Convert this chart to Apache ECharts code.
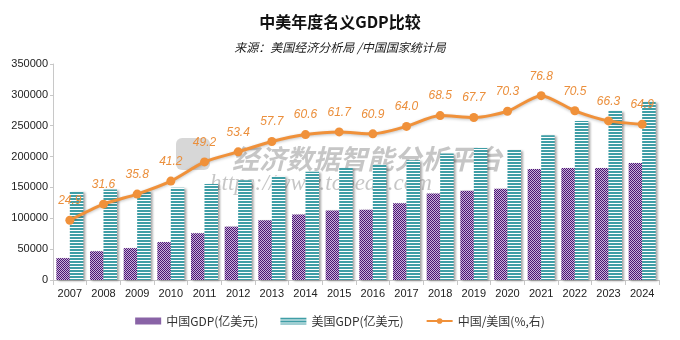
<!DOCTYPE html>
<html>
<head>
<meta charset="utf-8">
<script src="https://cdn.jsdelivr.net/npm/echarts@6/dist/echarts.min.js"></script>
<style>
  html, body { margin: 0; padding: 0; background: #fff; }
  #chart { width: 680px; height: 340px; }
</style>
</head>
<body>
<div id="chart"></div>
<script>
// Years on the category axis
const years = ['2007','2008','2009','2010','2011','2012','2013','2014','2015',
               '2016','2017','2018','2019','2020','2021','2022','2023','2024'];
// Nominal GDP, 100 million USD
const chinaGDP = [35500, 46600, 51700, 61500, 75800, 86500, 96800, 106000, 112500,
                  114000, 124200, 140300, 144800, 148000, 180000, 181500, 181500, 189500];
const usGDP = [143500, 146500, 144000, 149500, 155500, 161800, 168300, 175400, 181400,
               187100, 194200, 205000, 213800, 210500, 234400, 257500, 274000, 289000];
// China as a share of US GDP (%)
const ratio = [24.9, 31.6, 35.8, 41.2, 49.2, 53.4, 57.7, 60.6, 61.7,
               60.9, 64.0, 68.5, 67.7, 70.3, 76.8, 70.5, 66.3, 64.9];
const leftTicks = [0, 50000, 100000, 150000, 200000, 250000, 300000, 350000];

// Small repeating fills for the two bar series
function checkerFill(dark, light) {
  const c = document.createElement('canvas');
  c.width = 2; c.height = 2;
  const g = c.getContext('2d');
  g.fillStyle = light; g.fillRect(0, 0, 2, 2);
  g.fillStyle = dark; g.fillRect(0, 0, 1, 1); g.fillRect(1, 1, 1, 1);
  return { image: c, repeat: 'repeat' };
}
function stripeFill(line, gap) {
  const c = document.createElement('canvas');
  c.width = 4; c.height = 3;
  const g = c.getContext('2d');
  g.fillStyle = gap; g.fillRect(0, 0, 4, 3);
  g.fillStyle = line; g.fillRect(0, 0, 4, 2);
  return { image: c, repeat: 'repeat' };
}

const chinaFill = checkerFill('#4a1672', '#c9b0da');
const usFill = stripeFill('#3f9ea6', '#ffffff');
const orange = '#f0913a';

const chart = echarts.init(document.getElementById('chart'), null, { renderer: 'canvas' });
chart.setOption({
  animation: false,
  backgroundColor: '#ffffff',
  title: [
    {
      text: '中美年度名义GDP比较',
      left: 'center', top: 9,
      textStyle: { fontSize: 16, fontWeight: 'bold', color: '#111', fontFamily: 'Noto Sans CJK SC' }
    },
    {
      text: '来源：美国经济分析局 /中国国家统计局',
      left: 'center', top: 36,
      textStyle: { fontSize: 12, fontStyle: 'italic', fontWeight: 'normal', color: '#1a1a1a', fontFamily: 'Noto Sans CJK SC' }
    }
  ],
  graphic: [
    {
      type: 'rect', left: 176, top: 138, shape: { width: 34, height: 32, r: 6 },
      style: { fill: 'rgba(140,140,140,0.35)' }, z: 1
    },
    {
      type: 'text', left: 232, top: 145,
      style: {
        text: '经济数据智能分析平台', fill: 'rgba(120,120,120,0.42)',
        font: 'italic bold 27px "Noto Sans CJK SC"'
      }, z: 1
    },
    {
      type: 'text', left: 210, top: 172,
      style: {
        text: 'https://www.topedb.com', fill: 'rgba(120,120,120,0.42)',
        font: 'italic 23px "Liberation Serif"'
      }, z: 1
    }
  ],
  legend: {
    bottom: 8, left: 'center',
    itemGap: 22, itemWidth: 26, itemHeight: 7,
    textStyle: { fontSize: 12, color: '#333', fontFamily: 'Noto Sans CJK SC' },
    data: [
      { name: '中国GDP(亿美元)', icon: 'rect' },
      { name: '美国GDP(亿美元)', icon: 'rect' },
      { name: '中国/美国(%,右)' }
    ]
  },
  grid: { left: 53, right: 21, top: 64, bottom: 60 },
  xAxis: {
    type: 'category', data: years,
    axisLine: { lineStyle: { color: '#c8c8c8' } },
    axisTick: { show: true, length: 5, lineStyle: { color: '#c8c8c8' } },
    axisLabel: { color: '#222', fontSize: 11, margin: 8, fontFamily: 'Liberation Sans Narrow, Liberation Sans' }
  },
  yAxis: [
    {
      type: 'value', min: 0, max: 350000, interval: 50000,
      axisLine: { show: true, lineStyle: { color: '#c8c8c8' } },
      axisTick: { show: true, length: 3, lineStyle: { color: '#c8c8c8' } },
      splitLine: { show: false },
      axisLabel: {
        color: '#222', fontSize: 11, margin: 5,
        fontFamily: 'Liberation Sans Narrow, Liberation Sans',
        formatter: v => leftTicks.includes(v) ? String(v) : ''
      }
    },
    {
      type: 'value', min: 0, max: 90, show: false, splitLine: { show: false }
    }
  ],
  series: [
    {
      name: '中国GDP(亿美元)', type: 'bar', data: chinaGDP,
      barWidth: 13.5, barGap: '0%',
      itemStyle: {
        color: chinaFill,
        shadowColor: 'rgba(0,0,0,0.35)', shadowBlur: 2, shadowOffsetX: 2, shadowOffsetY: 1
      },
      z: 2
    },
    {
      name: '美国GDP(亿美元)', type: 'bar', data: usGDP,
      barWidth: 13.5, barGap: '0%',
      itemStyle: {
        color: usFill,
        shadowColor: 'rgba(0,0,0,0.35)', shadowBlur: 2, shadowOffsetX: 2, shadowOffsetY: 1
      },
      z: 2
    },
    {
      name: '中国/美国(%,右)', type: 'line', yAxisIndex: 1, data: ratio,
      smooth: 0.25,
      symbol: 'circle', symbolSize: 9,
      lineStyle: { color: orange, width: 3, shadowColor: 'rgba(0,0,0,0.25)', shadowBlur: 3, shadowOffsetY: 1 },
      itemStyle: { color: orange },
      label: {
        show: true, position: 'top', distance: 9,
        color: '#eb8f3c', fontSize: 12, fontStyle: 'italic',
        fontFamily: 'Liberation Sans Narrow, Liberation Sans',
        formatter: p => p.value.toFixed(1)
      },
      z: 5
    }
  ]
});
</script>
</body>
</html>
